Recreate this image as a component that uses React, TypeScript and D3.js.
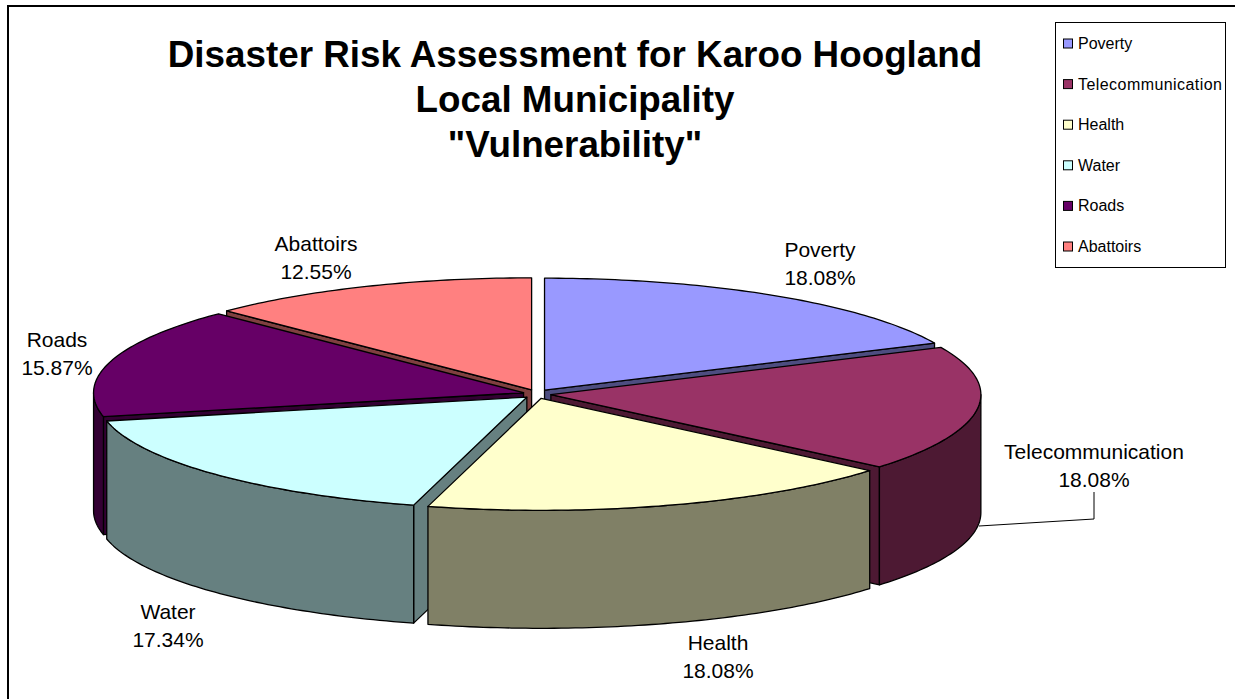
import React from 'react';
import * as d3 from 'd3';

const categories = ['Poverty', 'Telecommunication', 'Health', 'Water', 'Roads', 'Abattoirs'];
const shares = [18.08, 18.08, 18.08, 17.34, 15.87, 12.55];
const topColors = ['#9999ff', '#993366', '#ffffcc', '#ccffff', '#660066', '#ff8080'];
const sideColors = ['#4d4d80', '#4d1933', '#808066', '#668080', '#330033', '#804040'];
const titleLines = ['Disaster Risk Assessment for Karoo Hoogland', 'Local Municipality', '"Vulnerability"'];
// back to front, so nearer slices cover the walls of the ones behind
const paintOrder = [5, 0, 4, 1, 3, 2];
// label centres
const labelPos = [[820, 257], [1094, 459], [718, 650], [168, 619], [57, 347], [316, 251]];

const cx = 537;
const cy = 394;
const rx = 430;
const ry = 112;
const depth = 118;
const explodeX = 14;
const explodeY = 4.5;

const line = d3.line<[number, number]>();
const pct = d3.format('.2f');

const App = () => {
  const slices = d3.pie<number>().sort(null)(shares);
  const legendY = d3.scalePoint<string>().domain(categories).range([44, 247]);

  const faces = paintOrder.map(i => {
    const s = slices[i];
    const mid = (s.startAngle + s.endAngle) / 2;
    const ax = cx + explodeX * Math.sin(mid);
    const ay = cy - explodeY * Math.cos(mid);
    const at = (t: number, dy = 0): [number, number] => [ax + rx * Math.sin(t), ay - ry * Math.cos(t) + dy];
    const rim = (from: number, to: number, dy = 0) => {
      const n = Math.max(2, Math.ceil((to - from) * 60));
      return d3.range(n + 1).map(k => at(from + ((to - from) * k) / n, dy));
    };
    const apex: [number, number] = [ax, ay];
    const apexLow: [number, number] = [ax, ay + depth];

    // only the cut faces turned to the viewer get drawn
    const walls: [number, number][][] = [];
    if (Math.sin(s.startAngle) < -1e-6) walls.push([apex, at(s.startAngle), at(s.startAngle, depth), apexLow]);
    if (Math.sin(s.endAngle) > 1e-6) walls.push([apex, at(s.endAngle), at(s.endAngle, depth), apexLow]);
    const from = Math.max(s.startAngle, Math.PI / 2);
    const to = Math.min(s.endAngle, (3 * Math.PI) / 2);
    if (to > from) walls.push([...rim(from, to), ...rim(from, to, depth).reverse()]);

    return (
      <g key={categories[i]} stroke="#000" strokeWidth={1.3} strokeLinejoin="round">
        {walls.map((w, j) => (
          <path key={j} d={line(w) + 'Z'} fill={sideColors[i]} />
        ))}
        <path d={line([apex, ...rim(s.startAngle, s.endAngle)]) + 'Z'} fill={topColors[i]} />
      </g>
    );
  });

  return (
    <svg width={1235} height={699} style={{ position: 'absolute', left: 0, top: 0, fontFamily: '"Liberation Sans", Arial, sans-serif' }}>
      <rect x={8} y={6} width={1240} height={700} fill="#fff" stroke="#000" strokeWidth={2} />
      {titleLines.map((t, i) => (
        <text key={t} x={575} y={67 + i * 45} textAnchor="middle" fontSize={36.8} fontWeight="bold">{t}</text>
      ))}
      {faces}
      <path d="M979,526L1094,519V492" fill="none" stroke="#000" strokeWidth={1} />
      {categories.map((c, i) => (
        <text key={c} x={labelPos[i][0]} y={labelPos[i][1]} textAnchor="middle" fontSize={21}>
          <tspan x={labelPos[i][0]}>{c}</tspan>
          <tspan x={labelPos[i][0]} dy={28}>{pct(shares[i])}%</tspan>
        </text>
      ))}
      <rect x={1055.5} y={22.5} width={170} height={245} fill="#fff" stroke="#000" strokeWidth={1} />
      {categories.map((c, i) => (
        <g key={c}>
          <rect x={1063.5} y={legendY(c)! - 5} width={9} height={9} fill={topColors[i]} stroke="#000" strokeWidth={1} />
          <text x={1078} y={legendY(c)! + 5} fontSize={16} textLength={c === 'Telecommunication' ? 144 : undefined}>{c}</text>
        </g>
      ))}
    </svg>
  );
};

export default App;
